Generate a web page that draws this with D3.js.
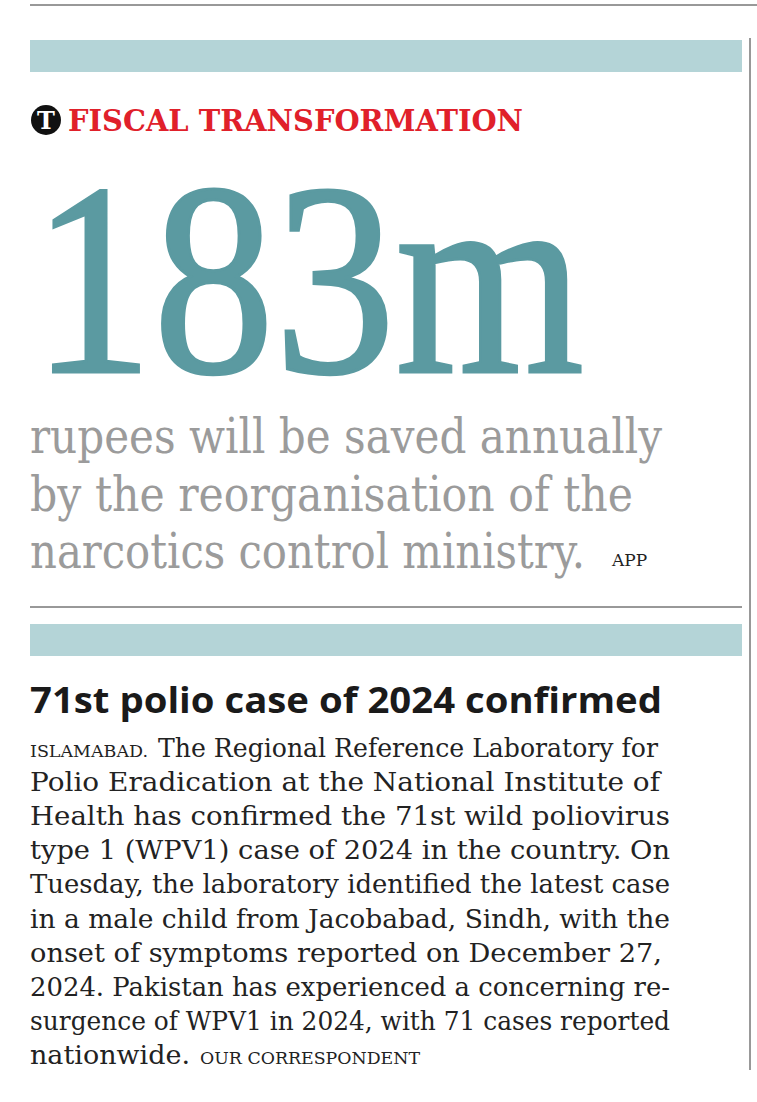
<!DOCTYPE html>
<html><head><meta charset="utf-8">
<script src="https://cdn.jsdelivr.net/npm/d3@7"></script>
<style>body{margin:0;background:#fff}</style></head>
<body><svg id="c" width="757" height="1102"></svg>
<script>
const kicker = "FISCAL TRANSFORMATION";
const bigFigure = "183m";
const subLines = ["rupees will be saved annually", "by the reorganisation of the", "narcotics control ministry."];
const subCredit = "APP";
const headline = "71st polio case of 2024 confirmed";
const bodyLines = [
  ["ISLAMABAD.", "The Regional Reference Laboratory for"],
  ["", "Polio Eradication at the National Institute of"],
  ["", "Health has confirmed the 71st wild poliovirus"],
  ["", "type 1 (WPV1) case of 2024 in the country. On"],
  ["", "Tuesday, the laboratory identified the latest case"],
  ["", "in a male child from Jacobabad, Sindh, with the"],
  ["", "onset of symptoms reported on December 27,"],
  ["", "2024. Pakistan has experienced a concerning re-"],
  ["", "surgence of WPV1 in 2024, with 71 cases reported"],
  ["", "nationwide."]
];
const bodyCredit = "OUR CORRESPONDENT";
const serif = "'DejaVu Serif', 'Liberation Serif', serif";

const svg = d3.select("#c");
const teal = "#b4d4d7";
svg.append("line").attr("x1",30).attr("x2",757).attr("y1",5).attr("y2",5).attr("stroke","#333");
svg.append("line").attr("x1",750).attr("x2",750).attr("y1",38).attr("y2",1070).attr("stroke","#333");
svg.append("rect").attr("x",30).attr("y",40).attr("width",712).attr("height",32).attr("fill",teal);
svg.append("rect").attr("x",30).attr("y",624).attr("width",712).attr("height",32).attr("fill",teal);
svg.append("line").attr("x1",30).attr("x2",742).attr("y1",607).attr("y2",607).attr("stroke","#333");

// logo
svg.append("circle").attr("cx",46).attr("cy",120).attr("r",15).attr("fill","#111");
svg.append("text").attr("x",46).attr("y",129).attr("text-anchor","middle").attr("fill","#fff")
  .attr("font-family",serif).attr("font-weight","bold").attr("font-size",24).text("T");
svg.append("text").attr("x",68).attr("y",131).attr("fill","#e0202a").attr("font-family",serif)
  .attr("font-weight","bold").attr("font-size",30).attr("textLength",455).attr("lengthAdjust","spacingAndGlyphs").text(kicker);

svg.append("text").attr("x",32).attr("y",372).attr("fill","#5b9aa1").attr("font-family","'Liberation Serif', serif")
  .attr("stroke","#5b9aa1").attr("stroke-width",3)
  .attr("font-size",275).attr("textLength",552).attr("lengthAdjust","spacingAndGlyphs").text(bigFigure);

const subY = d3.scaleLinear().domain([0,2]).range([453,568]);
const subW = [632, 603, 555];
subLines.forEach((t,i)=>svg.append("text").attr("x",30).attr("y",subY(i)).attr("fill","#9b9b9b")
  .attr("font-family",serif).attr("font-size",48).attr("textLength",subW[i]).attr("lengthAdjust","spacingAndGlyphs").text(t));
svg.append("text").attr("x",612).attr("y",566).attr("fill","#222").attr("font-family",serif)
  .attr("font-size",17).text(subCredit);

svg.append("text").attr("x",30).attr("y",713).attr("fill","#1a1a1a").attr("font-family","'Open Sans', sans-serif")
  .attr("font-weight","bold").attr("font-size",35).attr("textLength",632).attr("lengthAdjust","spacingAndGlyphs").text(headline);

const bodyY = d3.scaleLinear().domain([0,9]).range([757,1064]);
const bodyW = [500,630,640,640,640,640,632,640,640,160];
bodyLines.forEach((l,i)=>{
  let x = 30;
  if (l[0]) {
    svg.append("text").attr("x",x).attr("y",bodyY(i)).attr("fill","#222").attr("font-family",serif)
      .attr("font-size",17).attr("textLength",118).attr("lengthAdjust","spacingAndGlyphs").text(l[0]);
    x = 158;
  }
  svg.append("text").attr("x",x).attr("y",bodyY(i)).attr("fill","#222").attr("font-family",serif)
    .attr("font-size",26).attr("textLength",bodyW[i]).attr("lengthAdjust","spacingAndGlyphs").text(l[1]);
});
svg.append("text").attr("x",200).attr("y",bodyY(9)).attr("fill","#222").attr("font-family",serif)
  .attr("font-size",17).attr("textLength",220).attr("lengthAdjust","spacingAndGlyphs").text(bodyCredit);
</script></body></html>
